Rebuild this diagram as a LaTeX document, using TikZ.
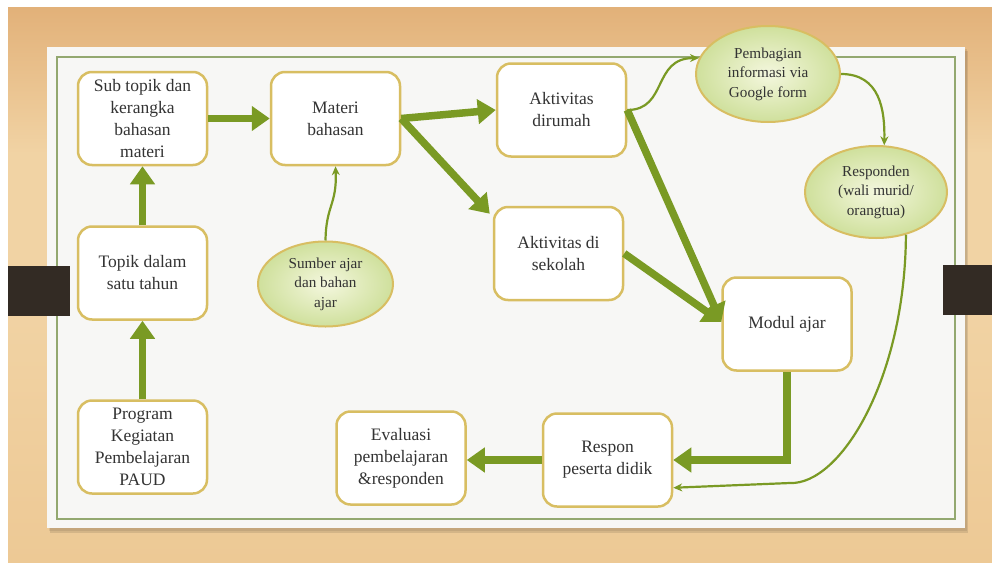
\documentclass[tikz,border=0pt]{standalone}
\usepackage{fontspec}
\setmainfont{Liberation Serif}
\usetikzlibrary{arrows.meta,calc,shapes.geometric}
\definecolor{arrgreen}{HTML}{7A9A24}
\definecolor{boxgold}{HTML}{D8BE62}
\definecolor{txt}{HTML}{333333}
\definecolor{woodA}{HTML}{E2B179}
\definecolor{woodB}{HTML}{F1D3A4}
\definecolor{woodC}{HTML}{EDC995}
\definecolor{paper}{HTML}{F7F7F5}
\definecolor{frame}{HTML}{93A870}
\definecolor{tab}{HTML}{332B24}
\definecolor{ovalin}{HTML}{F4F7DE}
\definecolor{ovalout}{HTML}{CFE09C}
\begin{document}
\begin{tikzpicture}[x=1pt,y=-1pt,
  box/.style={draw=boxgold, line width=2.5pt, fill=white, rounded corners=14pt,
    minimum width=129pt, minimum height=93pt, align=center, text=txt,
    font=\fontsize{17.5}{22}\selectfont, inner sep=2pt},
  oval/.style={ellipse, draw=boxgold, line width=2pt, inner color=ovalin, outer color=ovalout,
    align=center, text=txt, font=\fontsize{15.2}{19.5}\selectfont, inner sep=0pt},
  big/.style={draw=arrgreen, line width=7.5pt, -{Triangle[length=18pt,width=24pt]}},
  thinarr/.style={draw=arrgreen, line width=2.2pt, -{Stealth[length=9pt,width=8pt]}}
]
\useasboundingbox (0,0) rectangle (992,562);
% background
\fill[white] (0,0) rectangle (992,562);
\shade[top color=woodA, bottom color=woodB, middle color=woodB] (8,7) rectangle (992,300);
\shade[top color=woodB, bottom color=woodC] (8,300) rectangle (992,562);
% paper with shadow
\fill[black, opacity=0.10] (50,51) rectangle (968,533);
\fill[black, opacity=0.08] (49,49) rectangle (967,531);
\fill[paper] (47,47) rectangle (965,528);
\draw[frame, line width=1.3pt] (57,57) rectangle (955,519);
% tabs
\fill[tab] (8,266) rectangle (70,316);
\fill[tab] (943,265) rectangle (992,315);

% nodes
\node[box] (sub) at (142.5,118.5) {Sub topik dan\\kerangka\\bahasan\\materi};
\node[box] (materi) at (335.5,118.5) {Materi\\bahasan};
\node[box] (rumah) at (561.5,110) {Aktivitas\\dirumah};
\node[box] (sekolah) at (558.5,253.5) {Aktivitas di\\sekolah};
\node[box] (topik) at (142.5,273) {Topik dalam\\satu tahun};
\node[box] (prog) at (142.5,447) {Program\\Kegiatan\\Pembelajaran\\PAUD};
\node[box] (eval) at (401,458) {Evaluasi\\pembelajaran\\\&responden};
\node[box] (respon) at (607.5,460) {Respon\\peserta didik};
\node[box] (modul) at (787,324) {Modul ajar};

\node[oval, minimum width=135pt, minimum height=85pt] (sumber) at (325.5,284) {Sumber ajar\\dan bahan\\ajar};
\node[oval, minimum width=144pt, minimum height=96pt] (pemb) at (768,74) {Pembagian\\informasi via\\Google form};
\node[oval, minimum width=142pt, minimum height=92pt] (resp) at (876,192) {Responden\\(wali murid/\\orangtua)};

% thick arrows
\draw[big] (prog.north) -- (topik.south);
\draw[big] (topik.north) -- (sub.south);
\draw[big] (sub.east) -- (materi.west);
\draw[big] (materi.east) -- (rumah.west);
\draw[big] (materi.east) -- ($(sekolah.north west)+(-3,8)$);
\draw[big] (rumah.east) -- ($(modul.west)+(0,-2)$);
\draw[big] (sekolah.east) -- ($(modul.west)+(0,-2)$);
\draw[big, rounded corners=0pt] (modul.south) |- (respon.east);
\draw[big] (respon.west) -- (eval.east |- respon.west);

% thin arrows
\draw[thinarr] (sumber.north) .. controls (326,205) and (337,205) .. (materi.south);
\draw[thinarr] (rumah.east) .. controls (668,110) and (652,58) .. (pemb.167);
\draw[thinarr] (pemb.east) .. controls (880,74) and (885,110) .. (resp.80);
\coordinate (rin) at ($(respon.south east)+(0,-20)$);
\draw[thinarr] (resp.-55) .. controls (905,380) and (840,485) .. (790,483) -- (rin);
\end{tikzpicture}
\end{document}
